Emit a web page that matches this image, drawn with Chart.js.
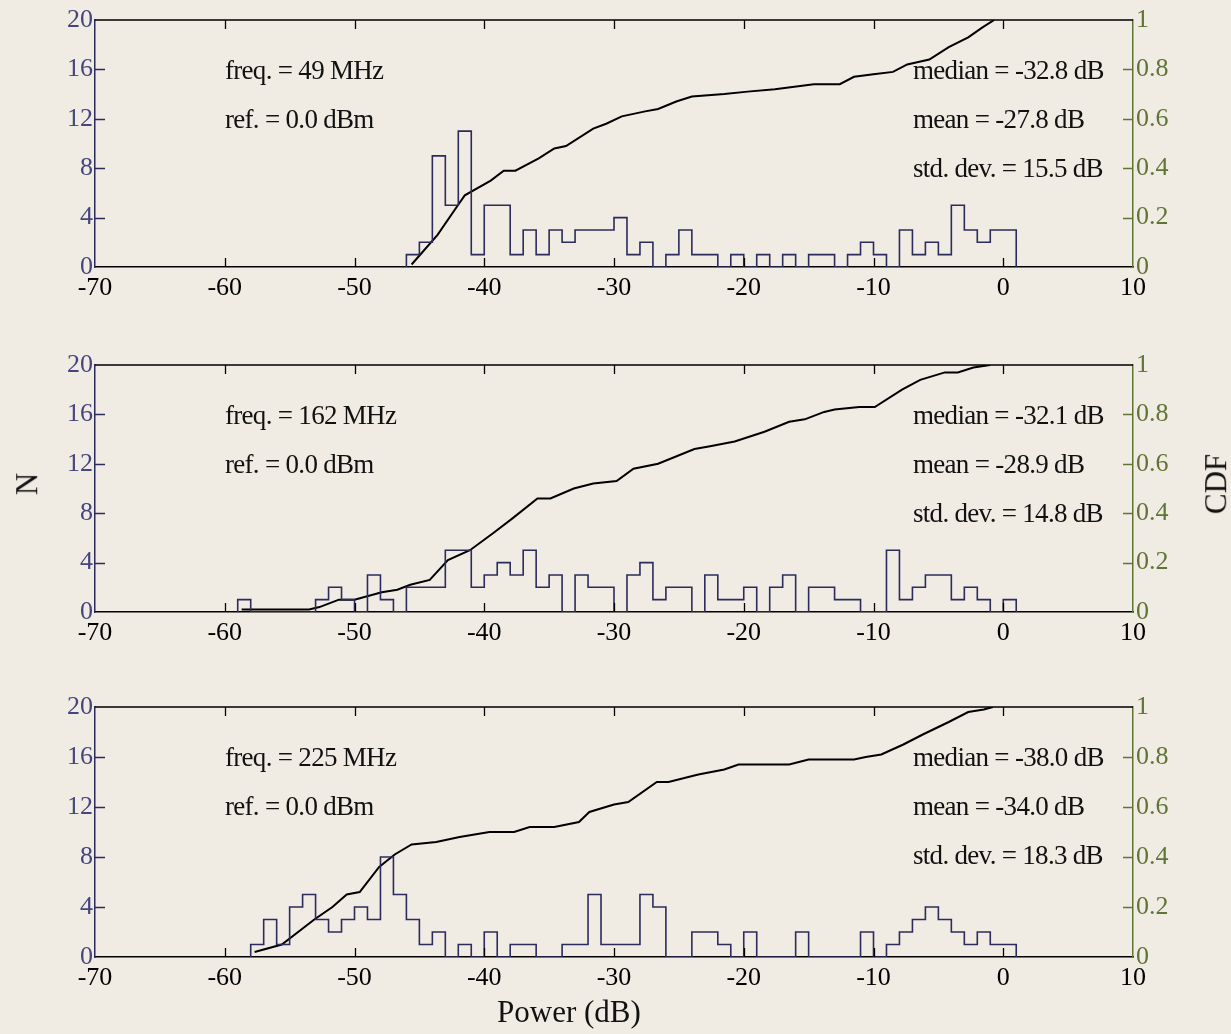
<!DOCTYPE html>
<html>
<head>
<meta charset="utf-8">
<script src="https://cdn.jsdelivr.net/npm/chart.js@4.4.1/dist/chart.umd.min.js"></script>
<style>
  html, body { margin: 0; padding: 0; }
  body { width: 1231px; height: 1034px; background: #f0ebe3; position: relative; overflow: hidden;
         font-family: 'Liberation Serif', 'DejaVu Serif', serif; }
  canvas { position: absolute; left: 0; }
  .note { position: absolute; font-size: 27px; line-height: 30px; color: #111; white-space: nowrap; letter-spacing: -0.7px; }
  .lbl { position: absolute; font-size: 31px; color: #111; white-space: nowrap; }
</style>
</head>
<body>
<canvas id="p0" width="1231" height="312"></canvas>
<canvas id="p1" width="1231" height="312"></canvas>
<canvas id="p2" width="1231" height="315"></canvas>
<div class="lbl" style="left:16px; top:466px; transform: rotate(-90deg);">N</div>
<div class="lbl" style="left:1186px; top:466px; transform: rotate(-90deg);">CDF</div>
<div class="lbl" style="left:497px; top:994px;">Power (dB)</div>
<script>
// histogram counts in 1 dB bins, first bin starts at binStart
const binStart49 = -46;
const counts49 = [1,2,9,5,11,1,5,5,1,3, 1,3,2,3,3,3,4,1,2,0, 1,3,1,1,0,1,0,1,0,1, 0,1,1,0,1,2,1,0,3,1, 2,1,5,3,2,3,3];
const binStart162 = -59;
const counts162 = [1,0,0,0,0,0,1,2,1,0, 3,1,0,2,2,2,5,5,2,3, 4,3,5,2,3,0,3,2,2,0, 3,4,1,2,2,0,3,1,1,2, 0,2,3,0,2,2,1,1,0,0, 5,1,2,3,3,1,2,1,0,1];
const binStart225 = -58;
const counts225 = [1,3,1,4,5,3,2,3,4,3, 8,5,3,1,2,0,1,0,2,0, 1,1,0,0,1,1,5,1,1,1, 5,4,0,0,2,2,1,0,2,0, 0,0,2,0,0,0,0,2,0,1, 2,3,4,3,2,1,2,1,1];

// CDF curves
const cdfX49 = [-45.6,-43.6,-41.9,-41.5,-39.5,-38.5,-37.6,-35.8,-34.6,-33.7,-31.6,-30.6,-29.4,-27.6,-26.6,-25.2,-24.0,-21.5,-19.7,-17.6,-14.6,-12.6,-11.5,-10.0,-8.5,-7.4,-5.7,-4.2,-2.7,-1.6,-0.7];
const cdfY49 = [0.01,0.13,0.26,0.29,0.35,0.39,0.39,0.44,0.48,0.49,0.56,0.58,0.61,0.63,0.64,0.67,0.69,0.70,0.71,0.72,0.74,0.74,0.77,0.78,0.79,0.82,0.84,0.89,0.93,0.97,1.0];
const cdfX162 = [-58.7,-53.5,-52.7,-51.2,-50.0,-47.9,-46.7,-45.7,-44.2,-42.8,-41.1,-39.3,-37.8,-35.9,-34.9,-33.1,-31.6,-29.8,-28.5,-26.6,-23.8,-22.7,-20.7,-18.4,-16.5,-15.3,-13.8,-13.0,-11.1,-9.9,-7.8,-6.4,-4.5,-3.5,-2.3,-1.0];
const cdfY162 = [0.01,0.01,0.02,0.05,0.05,0.08,0.09,0.11,0.13,0.21,0.25,0.32,0.38,0.46,0.46,0.50,0.52,0.53,0.58,0.60,0.66,0.67,0.69,0.73,0.77,0.78,0.81,0.82,0.83,0.83,0.90,0.94,0.97,0.97,0.99,1.0];
const cdfX225 = [-57.7,-55.6,-53.1,-51.7,-50.6,-49.6,-48.1,-46.9,-45.6,-43.7,-41.9,-39.6,-37.7,-36.5,-34.6,-32.7,-31.9,-30.0,-28.9,-26.7,-25.8,-23.5,-21.5,-20.4,-16.5,-15.0,-11.5,-10.6,-9.4,-7.7,-6.2,-4.2,-2.7,-1.5,-0.8];
const cdfY225 = [0.02,0.05,0.15,0.20,0.25,0.26,0.36,0.41,0.45,0.46,0.48,0.50,0.50,0.52,0.52,0.54,0.58,0.61,0.62,0.70,0.70,0.73,0.75,0.77,0.77,0.79,0.79,0.80,0.81,0.85,0.89,0.94,0.98,0.99,1.0];

const freqs = ['49', '162', '225'];
const refs = ['0.0', '0.0', '0.0'];
const medians = ['-32.8', '-32.1', '-38.0'];
const means = ['-27.8', '-28.9', '-34.0'];
const stdDevs = ['15.5', '14.8', '18.3'];

const panels = [
  { start: binStart49, counts: counts49, cx: cdfX49, cy: cdfY49, top: 20, bottom: 267 },
  { start: binStart162, counts: counts162, cx: cdfX162, cy: cdfY162, top: 365, bottom: 612 },
  { start: binStart225, counts: counts225, cx: cdfX225, cy: cdfY225, top: 707, bottom: 957 }
];

const NAVY = '#2b2b5c';
const NAVY_TXT = '#45457f';
const OLIVE = '#5f7536';
const FONT = "'Liberation Serif', 'DejaVu Serif', serif";

// MATLAB style box: ticks drawn inward plus top border
const innerTicks = {
  id: 'innerTicks',
  afterDatasetsDraw(chart) {
    const { ctx, chartArea: a, scales } = chart;
    ctx.save();
    ctx.lineWidth = 1.3;
    ctx.strokeStyle = '#000';
    ctx.beginPath();
    ctx.moveTo(a.left, a.top); ctx.lineTo(a.right, a.top);
    scales.x.ticks.forEach(t => {
      const px = Math.round(scales.x.getPixelForValue(t.value)) + 0.5;
      if (px < a.left + 2 || px > a.right - 2) return;
      ctx.moveTo(px, a.bottom); ctx.lineTo(px, a.bottom - 9);
      ctx.moveTo(px, a.top); ctx.lineTo(px, a.top + 9);
    });
    ctx.stroke();
    ctx.strokeStyle = NAVY;
    ctx.beginPath();
    scales.y.ticks.forEach(t => {
      const py = Math.round(scales.y.getPixelForValue(t.value)) + 0.5;
      if (py < a.top + 2 || py > a.bottom - 2) return;
      ctx.moveTo(a.left, py); ctx.lineTo(a.left + 10, py);
    });
    ctx.stroke();
    ctx.strokeStyle = OLIVE;
    ctx.beginPath();
    scales.y2.ticks.forEach(t => {
      const py = Math.round(scales.y2.getPixelForValue(t.value)) + 0.5;
      if (py < a.top + 2 || py > a.bottom - 2) return;
      ctx.moveTo(a.right, py); ctx.lineTo(a.right - 10, py);
    });
    ctx.stroke();
    ctx.restore();
  }
};

function makePanel(idx) {
  const p = panels[idx];
  const canvas = document.getElementById('p' + idx);
  canvas.style.top = (p.top - 20) + 'px';

  const hist = [{ x: p.start, y: 0 }];
  p.counts.forEach((c, i) => hist.push({ x: p.start + i, y: c }));
  hist.push({ x: p.start + p.counts.length, y: 0 });
  const cdf = p.cx.map((x, i) => ({ x: x, y: p.cy[i] }));

  new Chart(canvas, {
    type: 'line',
    data: {
      datasets: [
        { data: hist, yAxisID: 'y', stepped: true, borderColor: NAVY, borderWidth: 1.6, pointRadius: 0, fill: false },
        { data: cdf, yAxisID: 'y2', borderColor: '#000', borderWidth: 2, pointRadius: 0, tension: 0, fill: false }
      ]
    },
    options: {
      responsive: false,
      animation: false,
      layout: { padding: { top: 20, left: 0, right: 0, bottom: 0 } },
      plugins: { legend: { display: false }, tooltip: { enabled: false } },
      scales: {
        x: {
          type: 'linear', min: -70, max: 10,
          afterFit: s => { s.height = 45; },
          grid: { drawOnChartArea: false, drawTicks: false },
          border: { color: '#000', width: 1.5 },
          ticks: { stepSize: 10, padding: 6, color: '#000', font: { family: FONT, size: 26 } }
        },
        y: {
          position: 'left', min: 0, max: 20,
          afterFit: s => { s.width = 95; },
          grid: { drawOnChartArea: false, drawTicks: false },
          border: { color: NAVY, width: 1.5 },
          ticks: { stepSize: 4, padding: 2, color: NAVY_TXT, font: { family: FONT, size: 26 } }
        },
        y2: {
          position: 'right', min: 0, max: 1,
          afterFit: s => { s.width = 98; },
          grid: { drawOnChartArea: false, drawTicks: false },
          border: { color: OLIVE, width: 1.5 },
          ticks: { stepSize: 0.2, padding: 3, color: OLIVE, font: { family: FONT, size: 26 },
                   callback: v => String(+v.toFixed(1)) }
        }
      }
    },
    plugins: [innerTicks]
  });

  const lines = [
    [225, 50, 'freq. = ' + freqs[idx] + ' MHz'],
    [225, 99, 'ref. = ' + refs[idx] + ' dBm'],
    [913, 50, 'median = ' + medians[idx] + ' dB'],
    [913, 99, 'mean = ' + means[idx] + ' dB'],
    [913, 148, 'std. dev. = ' + stdDevs[idx] + ' dB']
  ];
  lines.forEach(([x, dy, txt]) => {
    const d = document.createElement('div');
    d.className = 'note';
    d.style.left = x + 'px';
    d.style.top = (p.top + dy - 15) + 'px';
    d.textContent = txt;
    document.body.appendChild(d);
  });
}

[0, 1, 2].forEach(makePanel);
</script>
</body>
</html>
